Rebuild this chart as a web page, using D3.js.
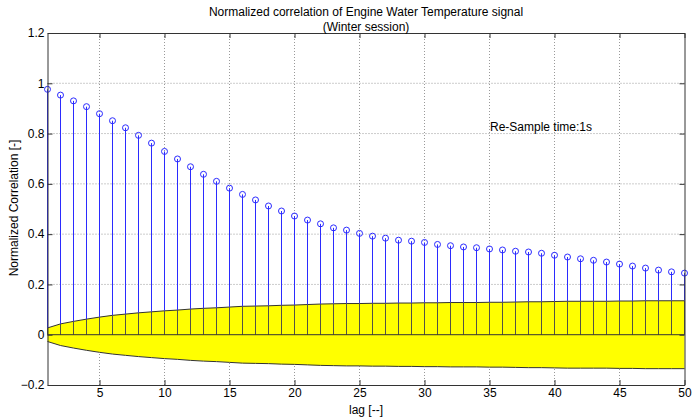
<!DOCTYPE html>
<html>
<head>
<meta charset="utf-8">
<script src="https://cdn.jsdelivr.net/npm/d3@7"></script>
<style>
  body { margin: 0; background: #fff; }
  text { font-family: "Liberation Sans", Arial, sans-serif; fill: #000; }
</style>
</head>
<body>
<div id="chart"></div>
<script>
const W = 692, H = 420;

// lags 1..50
const lags = d3.range(1, 51);

// normalized correlation
const corrValues = [
  0.976, 0.953, 0.930, 0.907, 0.879, 0.851, 0.823, 0.793, 0.762, 0.729,
  0.699, 0.668, 0.638, 0.610, 0.583, 0.558, 0.536, 0.512, 0.492, 0.472,
  0.456, 0.441, 0.425, 0.416, 0.403, 0.392, 0.384, 0.376, 0.372, 0.367,
  0.359, 0.354, 0.349, 0.346, 0.341, 0.337, 0.332, 0.329, 0.324, 0.316,
  0.309, 0.302, 0.296, 0.289, 0.281, 0.273, 0.265, 0.257, 0.250, 0.245
];

// confidence bound (upper; lower is the mirror)
const confBound = [
  0.027, 0.043, 0.053, 0.062, 0.070, 0.077, 0.082, 0.087, 0.091, 0.095,
  0.098, 0.102, 0.105, 0.107, 0.110, 0.113, 0.114, 0.115, 0.117, 0.118,
  0.120, 0.122, 0.123, 0.124, 0.124, 0.125, 0.125, 0.126, 0.126, 0.127,
  0.127, 0.128, 0.128, 0.128, 0.129, 0.129, 0.130, 0.131, 0.131, 0.132,
  0.133, 0.133, 0.133, 0.133, 0.134, 0.134, 0.135, 0.135, 0.135, 0.135
];

const xTicks = [5, 10, 15, 20, 25, 30, 35, 40, 45, 50];
const yTicks = [-0.2, 0, 0.2, 0.4, 0.6, 0.8, 1, 1.2];

const margin = { left: 47.5, right: W - 684.5, top: 33, bottom: H - 385 };

const x = d3.scaleLinear().domain([1, 50]).range([margin.left, W - margin.right]);
const y = d3.scaleLinear().domain([-0.2, 1.2]).range([H - margin.bottom, margin.top]);

const svg = d3.select("#chart").append("svg")
  .attr("width", W)
  .attr("height", H);

const AXIS_COLOR = "#333333";
const GRID_COLOR = "#999999";
const STEM_COLOR = "#2b2bff";

// grid
svg.append("g").selectAll("line")
  .data(xTicks.filter(d => d < 50))
  .join("line")
  .attr("x1", d => x(d)).attr("x2", d => x(d))
  .attr("y1", y(-0.2)).attr("y2", y(1.2))
  .attr("stroke", GRID_COLOR)
  .attr("stroke-dasharray", "1,2");

svg.append("g").selectAll("line")
  .data(yTicks.filter(d => d > -0.2 && d < 1.2))
  .join("line")
  .attr("x1", x(1)).attr("x2", x(50))
  .attr("y1", d => y(d)).attr("y2", d => y(d))
  .attr("stroke", GRID_COLOR)
  .attr("stroke-dasharray", "1,2");

// confidence band
const band = lags.map((l, i) => ({ lag: l, b: confBound[i] }));
const area = d3.area()
  .x(d => x(d.lag))
  .y0(d => y(-d.b))
  .y1(d => y(d.b));

svg.append("path")
  .datum(band)
  .attr("d", area)
  .attr("fill", "#ffff00")
  .attr("stroke", "none");

svg.append("path")
  .datum(band)
  .attr("d", d3.line().x(d => x(d.lag)).y(d => y(d.b)))
  .attr("fill", "none")
  .attr("stroke", AXIS_COLOR);
svg.append("path")
  .datum(band)
  .attr("d", d3.line().x(d => x(d.lag)).y(d => y(-d.b)))
  .attr("fill", "none")
  .attr("stroke", AXIS_COLOR);

// stems
const pts = lags.map((l, i) => ({ lag: l, v: corrValues[i], b: confBound[i] }));

svg.append("g").selectAll("line")
  .data(pts)
  .join("line")
  .attr("x1", d => x(d.lag)).attr("x2", d => x(d.lag))
  .attr("y1", d => y(d.b)).attr("y2", d => y(d.v))
  .attr("stroke", STEM_COLOR);

// stem parts inside the band look dark
svg.append("g").selectAll("line")
  .data(pts)
  .join("line")
  .attr("x1", d => x(d.lag)).attr("x2", d => x(d.lag))
  .attr("y1", y(0)).attr("y2", d => y(d.b))
  .attr("stroke", "#555544");

// zero line
svg.append("line")
  .attr("x1", x(1)).attr("x2", x(50))
  .attr("y1", y(0)).attr("y2", y(0))
  .attr("stroke", AXIS_COLOR);

// markers
svg.append("g").selectAll("circle")
  .data(pts)
  .join("circle")
  .attr("cx", d => x(d.lag))
  .attr("cy", d => y(d.v))
  .attr("r", 3)
  .attr("fill", "none")
  .attr("stroke", STEM_COLOR);

// axes box with inward ticks
const axG = svg.append("g");
axG.append("g")
  .attr("transform", `translate(0,${y(-0.2)})`)
  .call(d3.axisBottom(x).tickValues(xTicks).tickSizeInner(-5).tickSizeOuter(0).tickPadding(3));
axG.append("g")
  .attr("transform", `translate(0,${y(1.2)})`)
  .call(d3.axisTop(x).tickValues(xTicks).tickSizeInner(-5).tickSizeOuter(0).tickFormat(""));
axG.append("g")
  .attr("transform", `translate(${x(1)},0)`)
  .call(d3.axisLeft(y).tickValues(yTicks).tickSizeInner(-5).tickSizeOuter(0).tickPadding(3).tickFormat(d3.format("")));
axG.append("g")
  .attr("transform", `translate(${x(50)},0)`)
  .call(d3.axisRight(y).tickValues(yTicks).tickSizeInner(-5).tickSizeOuter(0).tickFormat(""));

axG.selectAll(".domain").attr("stroke", AXIS_COLOR);
axG.selectAll(".tick line").attr("stroke", AXIS_COLOR);
axG.selectAll(".tick text")
  .style("font-family", "'Liberation Sans', Arial, sans-serif")
  .style("font-size", "12px")
  .attr("fill", "#000");

// titles and labels
svg.append("text")
  .attr("x", 366).attr("y", 16)
  .attr("text-anchor", "middle")
  .style("font-size", "12px")
  .text("Normalized correlation of Engine Water Temperature signal");
svg.append("text")
  .attr("x", 366).attr("y", 31)
  .attr("text-anchor", "middle")
  .style("font-size", "12px")
  .text("(Winter session)");

svg.append("text")
  .attr("x", 366).attr("y", 414)
  .attr("text-anchor", "middle")
  .style("font-size", "12px")
  .text("lag [--]");

svg.append("text")
  .attr("transform", "translate(18,208) rotate(-90)")
  .attr("text-anchor", "middle")
  .style("font-size", "12px")
  .text("Normalized Correlation [-]");

svg.append("text")
  .attr("x", 490).attr("y", 131)
  .style("font-size", "12px")
  .text("Re-Sample time:1s");
</script>
</body>
</html>
